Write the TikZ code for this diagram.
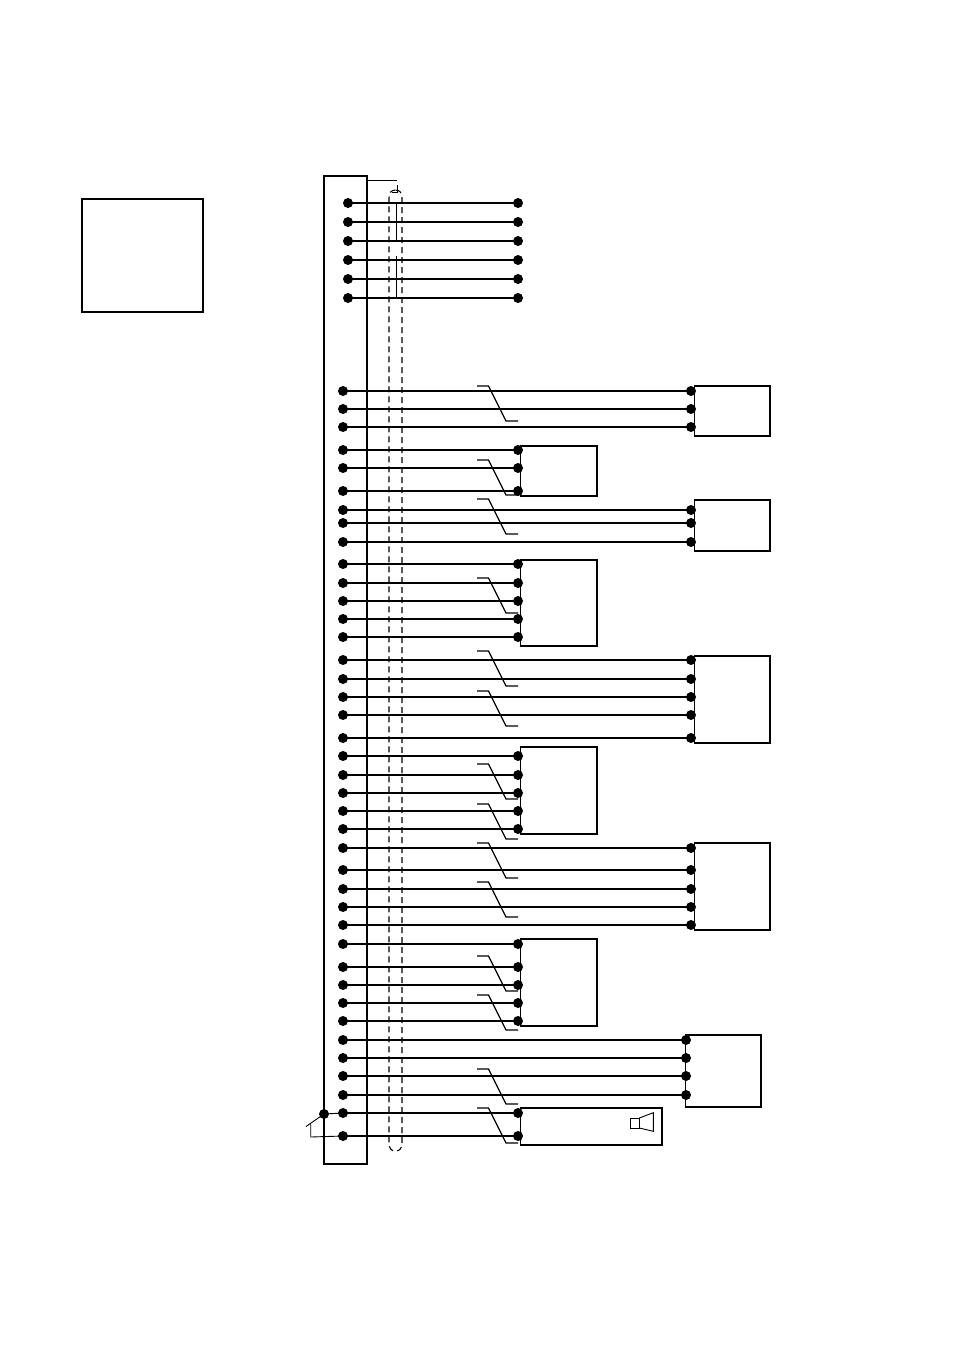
\documentclass[tikz,border=0pt]{standalone}
\begin{document}
\begin{tikzpicture}[x=1pt,y=-1pt,
  wirestyle/.style={line width=1.5pt,black},
  dotstyle/.style={circle,fill=black,draw=none,minimum size=10pt,inner sep=0pt,outer sep=0pt},
  boxstyle/.style={draw=black,fill=white,line width=1.1pt,rectangle,inner sep=0pt,outer sep=0pt,anchor=north west},
  thinline/.style={line width=0.9pt,black},
  tickstyle/.style={line width=1.2pt,black},
  shieldstyle/.style={line width=1.1pt,black,dash pattern=on 6pt off 4pt}]
\useasboundingbox[fill=white] (0,0) rectangle (955,1350);
% boxes: name / x1 / y1 / x2 / y2
\foreach \k/\xa/\ya/\xb/\yb in {
  legend/82/199/203/312, bar/324/176/367/1164,
  u1/694.7/386/770/436, u2/520.7/446/597/496, u3/694.7/500/770/551,
  u4/520.7/560/597/646, u5/694.7/656/770/743, u6/520.7/747/597/834,
  u7/694.7/843/770/930, u8/520.7/939/597/1026, u9/685.7/1035/761/1107,
  u10/520.7/1108/662/1145}{
  \pgfmathsetlengthmacro{\bw}{(\xb-\xa)*1pt}
  \pgfmathsetlengthmacro{\bh}{(\yb-\ya)*1pt}
  \node[boxstyle,minimum width=\bw,minimum height=\bh] (\k) at (\xa,\ya) {};
}
% thick right edge of the terminal bar
\draw[line width=1.8pt] (bar.north east) -- (bar.south east);
% shield
\draw[shieldstyle] (395.5,190) .. controls (391,190) and (389,193) .. (389,198) -- (389,1143)
  .. controls (389,1148) and (391,1151) .. (395.5,1151)
  .. controls (400,1151) and (402,1148) .. (402,1143) -- (402,198)
  .. controls (402,193) and (400,190) .. (395.5,190);
\coordinate (sa) at (367,180.5);
\coordinate (sb) at (397,180.5);
\draw[thinline] (sa) -- (sb);
\coordinate (sc) at (397,185);
\coordinate (sd) at (397,192);
\coordinate (se) at (392,192);
\draw[thinline] (sc) -- (sd) -- (se);
% wires: index / left x / right x / y
\foreach \k/\xl/\xr/\yy in {
  1/348/518/203, 2/348/518/222, 3/348/518/241, 4/348/518/260, 5/348/518/279, 6/348/518/298,
  7/343/691/391, 8/343/691/409, 9/343/691/427,
  10/343/518/450, 11/343/518/468, 12/343/518/491,
  13/343/691/510, 14/343/691/523, 15/343/691/542,
  16/343/518/564, 17/343/518/583, 18/343/518/601, 19/343/518/619, 20/343/518/637,
  21/343/691/660, 22/343/691/679, 23/343/691/697, 24/343/691/715, 25/343/691/738,
  26/343/518/756, 27/343/518/775, 28/343/518/793, 29/343/518/811, 30/343/518/829,
  31/343/691/848, 32/343/691/870, 33/343/691/889, 34/343/691/907, 35/343/691/925,
  36/343/518/944, 37/343/518/967, 38/343/518/985, 39/343/518/1003, 40/343/518/1021,
  41/343/686/1040, 42/343/686/1058, 43/343/686/1076, 44/343/686/1095,
  45/343/518/1113, 46/343/518/1136}{
  \node[dotstyle] (a\k) at (\xl,\yy) {};
  \node[dotstyle] (b\k) at (\xr,\yy) {};
  \draw[wirestyle] (a\k.center) -- (b\k.center);
}
% drain wires crossing the shield
\coordinate (da) at (396.7,203);
\coordinate (db) at (396.7,241);
\coordinate (dc) at (396.7,256);
\coordinate (dd) at (396.7,298);
\draw[thinline] (da) -- (db) (dc) -- (dd);
% twisted-pair ticks
\foreach \yy in {386,460,499,578,651,691,764,804,843,882,956,995,1069,1108}{
  \draw[tickstyle] (477,\yy) -- (488.5,\yy) -- (506,\yy+35) -- (518,\yy+35);
}
% ground at the bar
\node[dotstyle] (gnd) at (324,1114) {};
\coordinate (ga) at (306,1126.5);
\coordinate (gb) at (310.7,1124);
\coordinate (gc) at (310.7,1137);
\draw[thinline] (gnd.center) -- (ga);
\draw[thinline] (gb) -- (gc) -- (a46.center);
\draw[thinline] (gnd.center) -- (a45.center);
% speaker
\draw[line width=0.9pt] (630.7,1118) rectangle (639.3,1128);
\draw[line width=0.9pt] (639.3,1118) -- (653.3,1112.7) -- (653.3,1131.3) -- (639.3,1128);
\end{tikzpicture}
\end{document}
